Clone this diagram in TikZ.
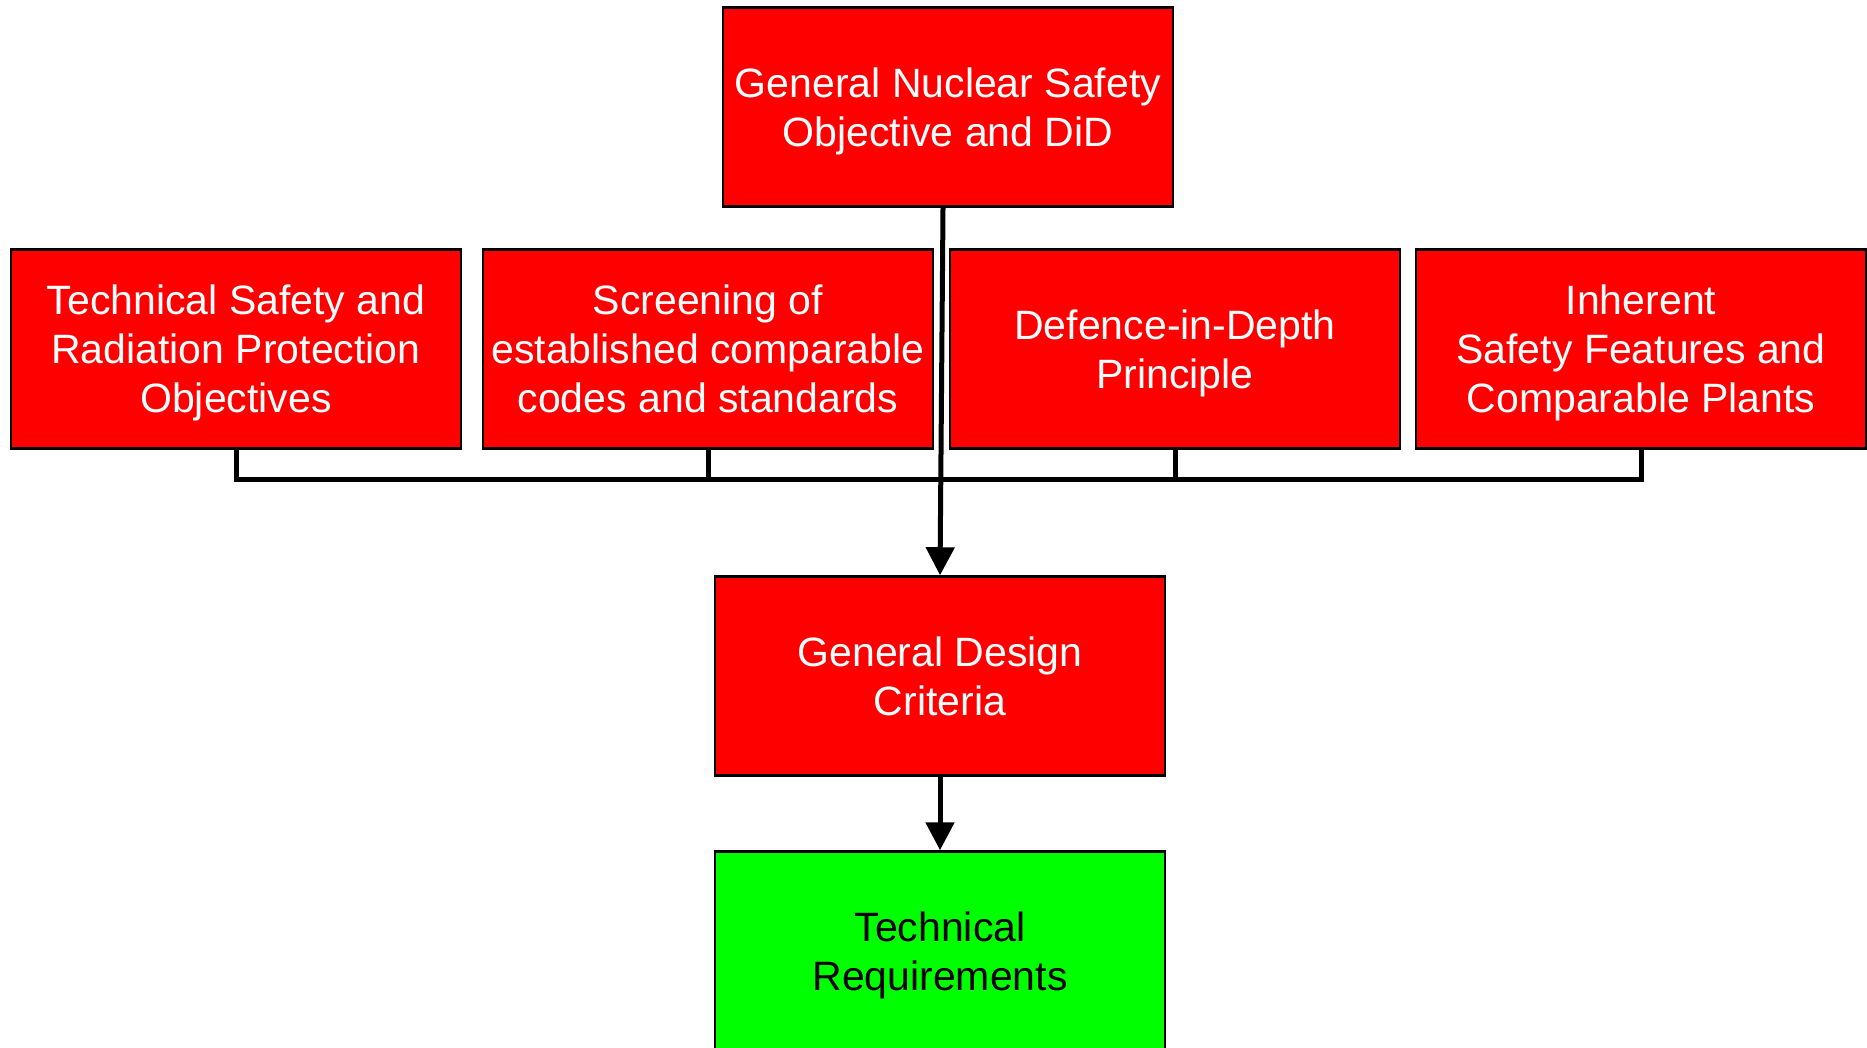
\documentclass[tikz,border=0pt]{standalone}
\usepackage{fontspec}
\setmainfont{Liberation Sans}
\usetikzlibrary{arrows.meta}
\definecolor{boxred}{RGB}{255,0,0}
\definecolor{boxgreen}{RGB}{0,255,0}
\begin{document}
\begin{tikzpicture}[x=1pt,y=-1pt,
  block/.style={draw=black,line width=2.5pt,minimum width=450pt,minimum height=199pt,
    align=center,inner sep=0pt,text depth=0pt,font=\fontsize{41}{49}\selectfont},
  redblock/.style={block,fill=boxred,text=white},
  greenblock/.style={block,fill=boxgreen,text=black},
  link/.style={draw=black,line width=5pt},
  flow/.style={link,-{Triangle[width=28pt,length=28pt]}}]
\useasboundingbox[fill=white] (0,0) rectangle (1867,1048);

% top level objective
\node[redblock] (top) at (948,107) {General Nuclear Safety\\Objective and DiD};

% row of input sources
\node[redblock] (r1) at (236,349) {Technical Safety and\\Radiation Protection\\Objectives};
\node[redblock] (r2) at (708,349) {Screening of\\established comparable\\codes and standards};
\node[redblock] (r3) at (1175,349) {Defence-in-Depth\\Principle};
\node[redblock] (r4) at (1641,349) {Inherent\\Safety Features and\\Comparable Plants};

% derived criteria and requirements
\node[redblock] (gdc) at (940,676) {General Design\\Criteria};
\node[greenblock] (tr) at (940,951) {Technical\\Requirements};

% collecting bus below the row
\path (r1.south) ++(0,30) coordinate (b1);
\draw[link] (r1.south) -- (b1) -| (r4.south);
\draw[link] (r2.south) -- (r2.south |- b1);
\draw[link] (r3.south) -- (r3.south |- b1);

% main flow
\draw[flow] ([xshift=-5pt]top.south) -- (gdc.north);
\draw[flow] (gdc.south) -- (tr.north);
\end{tikzpicture}
\end{document}
